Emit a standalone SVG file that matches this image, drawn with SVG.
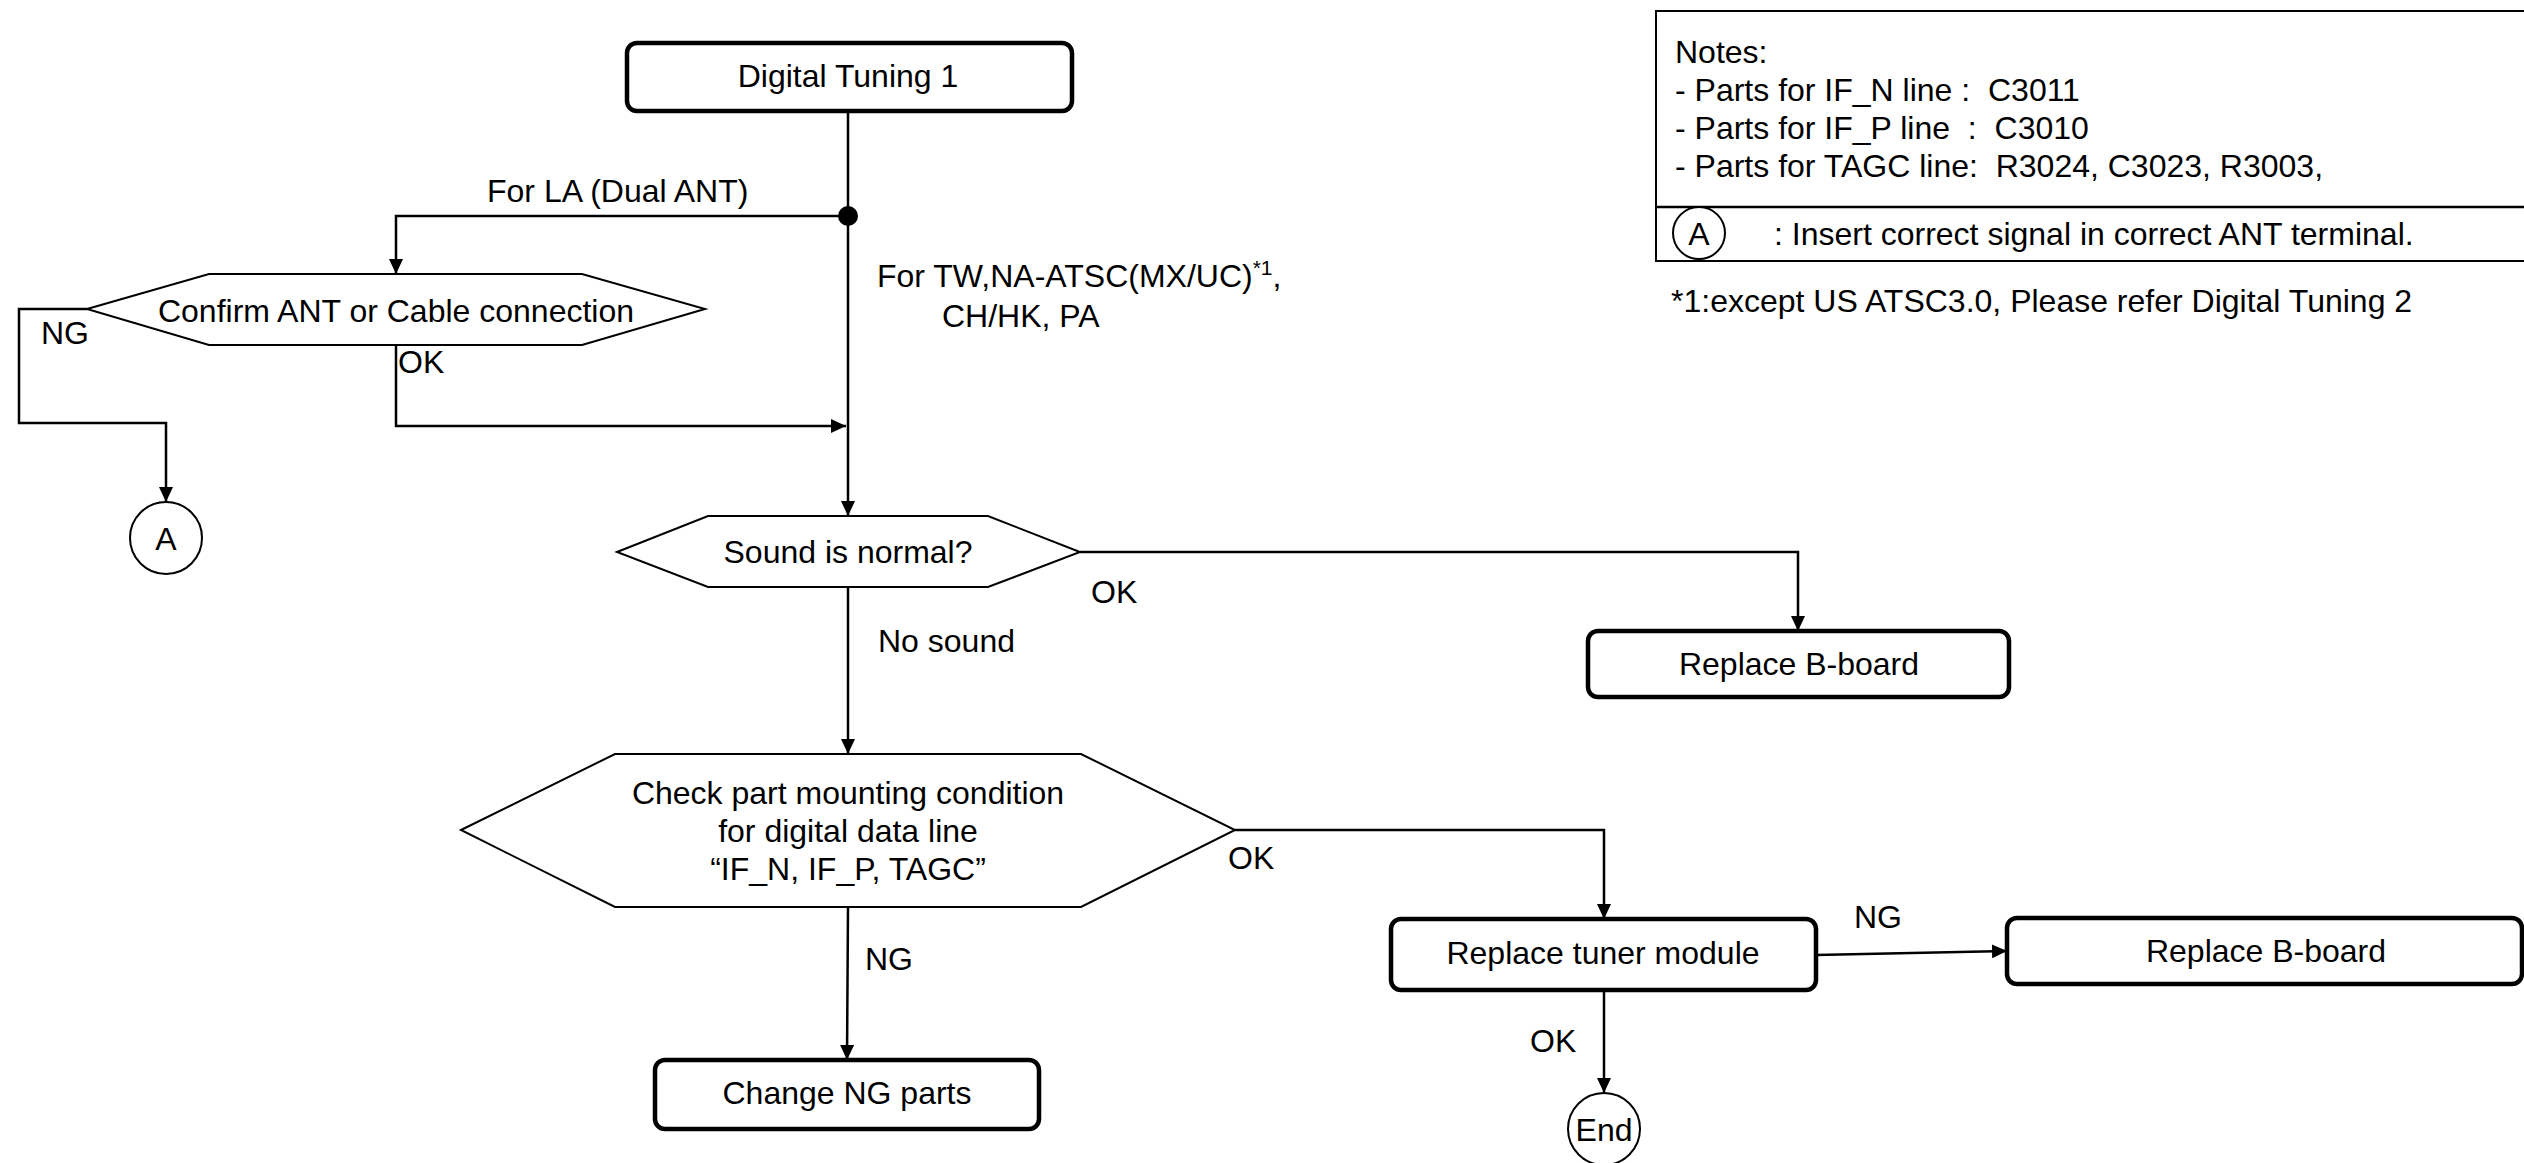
<svg xmlns="http://www.w3.org/2000/svg" width="2524" height="1163" viewBox="0 0 2524 1163">
<defs>
<style>
text{font-family:"Liberation Sans",Arial,sans-serif;font-size:32px;fill:#000}
.c{text-anchor:middle}
.box{fill:#fff;stroke:#000;stroke-width:4.5}
.hex{fill:#fff;stroke:#000;stroke-width:2}
.circ{fill:#fff;stroke:#000;stroke-width:2}
.ln{fill:none;stroke:#000;stroke-width:2.5}
.ln-a{fill:none;stroke:#000;stroke-width:2.5;marker-end:url(#arr)}
</style>
<marker id="arr" markerUnits="userSpaceOnUse" markerWidth="16" markerHeight="14" refX="15" refY="7" orient="auto">
<path d="M0,0 L15,7 L0,14 z" fill="#000"/>
</marker>
</defs>
<rect width="2524" height="1163" fill="#fff"/>

<g id="connectors">
<path class="ln-a" d="M848,111 L848,516"/>
<path class="ln-a" d="M848,216 L396,216 L396,274"/>
<path class="ln-a" d="M87,309 L19,309 L19,423 L166,423 L166,502"/>
<path class="ln-a" d="M396,345 L396,426 L846,426"/>
<path class="ln-a" d="M1080,552 L1798,552 L1798,631"/>
<path class="ln-a" d="M848,587 L848,754"/>
<path class="ln-a" d="M1235,830 L1604,830 L1604,919"/>
<path class="ln-a" d="M848,907 L847,1060"/>
<path class="ln-a" d="M1816,955 L2007,951"/>
<path class="ln-a" d="M1604,990 L1604,1093"/>
<circle cx="848" cy="216" r="10" fill="#000"/>
<text x="487" y="202">For LA (Dual ANT)</text>
<text x="877" y="287">For TW,NA-ATSC(MX/UC)<tspan font-size="21" dy="-12">*1</tspan><tspan dy="12">,</tspan></text>
<text x="942" y="327">CH/HK, PA</text>
<text x="41" y="344">NG</text>
<text x="398" y="373">OK</text>
<text x="1091" y="603">OK</text>
<text x="878" y="652">No sound</text>
<text x="1228" y="869">OK</text>
<text x="865" y="970">NG</text>
<text x="1854" y="928">NG</text>
<text x="1530" y="1052">OK</text>
</g>

<g id="n-start">
<rect class="box" x="627" y="43" width="445" height="68" rx="10"/>
<text class="c" x="848" y="87">Digital Tuning 1</text>
</g>

<g id="n-confirm">
<polygon class="hex" points="87,309 209,274 582,274 705,309 582,345 209,345"/>
<text class="c" x="396" y="322">Confirm ANT or Cable connection</text>
</g>

<g id="n-A">
<circle class="circ" cx="166" cy="538" r="36"/>
<text class="c" x="166" y="550">A</text>
</g>

<g id="n-sound">
<polygon class="hex" points="617,552 708,516 988,516 1080,552 988,587 708,587"/>
<text class="c" x="848" y="563">Sound is normal?</text>
</g>

<g id="n-replace-b1">
<rect class="box" x="1588" y="631" width="421" height="66" rx="10"/>
<text class="c" x="1799" y="675">Replace B-board</text>
</g>

<g id="n-check">
<polygon class="hex" points="461,830 615,754 1081,754 1235,830 1081,907 615,907"/>
<text class="c" x="848" y="804">Check part mounting condition</text>
<text class="c" x="848" y="842">for digital data line</text>
<text class="c" x="848" y="880">“IF_N, IF_P, TAGC”</text>
</g>

<g id="n-change">
<rect class="box" x="655" y="1060" width="384" height="69" rx="10"/>
<text class="c" x="847" y="1104">Change NG parts</text>
</g>

<g id="n-tuner">
<rect class="box" x="1391" y="919" width="425" height="71" rx="10"/>
<text class="c" x="1603" y="964">Replace tuner module</text>
</g>

<g id="n-replace-b2">
<rect class="box" x="2007" y="918" width="515" height="66" rx="10"/>
<text class="c" x="2266" y="962">Replace B-board</text>
</g>

<g id="n-end">
<circle class="circ" cx="1604" cy="1129" r="36"/>
<text class="c" x="1604" y="1141">End</text>
</g>

<g id="notes">
<rect x="1656" y="11" width="900" height="250" fill="#fff" stroke="#000" stroke-width="2"/>
<line x1="1656" y1="207" x2="2530" y2="207" stroke="#000" stroke-width="2.5"/>
<text x="1675" y="63">Notes:</text>
<text x="1675" y="101" xml:space="preserve">- Parts for IF_N line :  C3011</text>
<text x="1675" y="139" xml:space="preserve">- Parts for IF_P line  :  C3010</text>
<text x="1675" y="177" xml:space="preserve">- Parts for TAGC line:  R3024, C3023, R3003,</text>
<circle class="circ" cx="1699" cy="233" r="26"/>
<text class="c" x="1699" y="245">A</text>
<text x="1774" y="245">: Insert correct signal in correct ANT terminal.</text>
<text x="1671" y="312">*1:except US ATSC3.0, Please refer Digital Tuning 2</text>
</g>
</svg>
